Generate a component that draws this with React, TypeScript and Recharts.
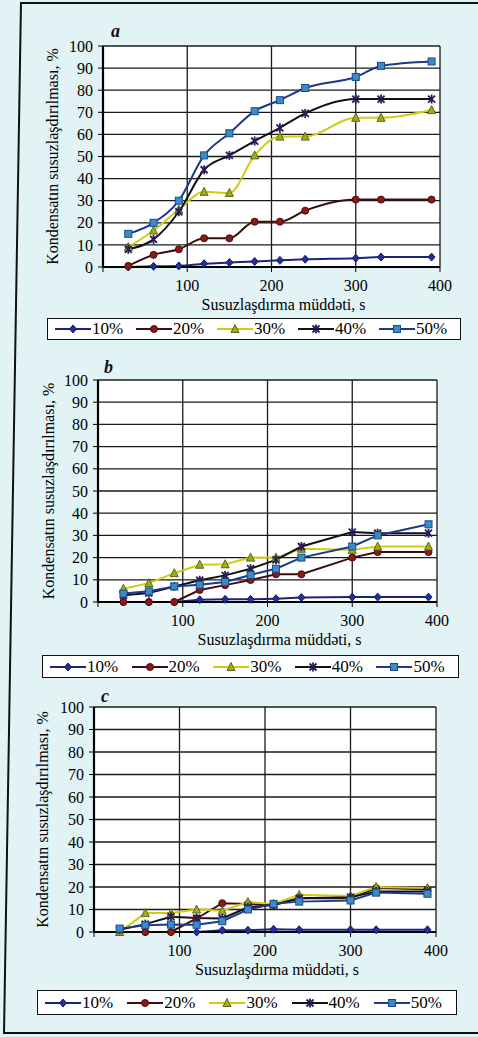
import React from 'react';
import { CartesianGrid, Label, Line, LineChart, XAxis, YAxis } from 'recharts';

// time, s
const times = [30, 60, 90, 120, 150, 180, 210, 240, 300, 330, 390];
const xTicks = [0, 100, 200, 300, 400];
const yTicks = [0, 10, 20, 30, 40, 50, 60, 70, 80, 90, 100];
const seriesNames = ['10%', '20%', '30%', '40%', '50%'];

// panel a
const a10 = [0, 0.3, 0.5, 1.5, 2, 2.5, 3, 3.5, 4, 4.5, 4.5];
const a20 = [0.5, 5.5, 8, 13, 13, 20.5, 20.5, 25.5, 30.5, 30.5, 30.5];
const a30 = [9, 16.5, 26, 34, 33.5, 50.5, 59, 59, 67.5, 67.5, 71];
const a40 = [8, 12.5, 25, 44, 50.5, 57, 63, 69.5, 76, 76, 76];
const a50 = [15, 20, 30, 50.5, 60.5, 70.5, 75.5, 81, 86, 91, 93];

// panel b
const b10 = [0, 0, 0, 1, 1.2, 1.2, 1.5, 2, 2.2, 2.2, 2.2];
const b20 = [0, 0, 0, 5.4, 7.6, 9.9, 12.5, 12.5, 20, 22.5, 22.5];
const b30 = [6, 8.5, 13, 16.8, 17, 20, 20, 24, 23.5, 25, 25];
const b40 = [3, 4, 7, 9.8, 12, 15, 19, 25, 31.5, 31, 31];
const b50 = [3.8, 4.8, 7, 7.8, 9, 12.2, 15, 20, 25, 30, 35];

// panel c
const c10 = [0, 0, 0, 0, 0.8, 0.8, 1.2, 1, 1, 1, 1];
const c20 = [0, 0, 0, 6, 12.8, 12.5, 12, 15, 15, 19.5, 19];
const c30 = [0, 8.4, 8.4, 10, 9.5, 13.3, 12.5, 16.5, 16, 20, 19.5];
const c40 = [1, 3.5, 6.8, 6.2, 6, 11, 12, 15, 15.5, 18, 18];
const c50 = [1.5, 3, 3.3, 3.2, 4.8, 10, 12.5, 13.5, 14, 17.5, 17];

type Kind = 'diamond' | 'circle' | 'triangle' | 'star' | 'square';

const styles: { key: string; line: string; fill: string; edge: string; kind: Kind }[] = [
  { key: 's10', line: '#1b237c', fill: '#1f2f9e', edge: '#141a66', kind: 'diamond' },
  { key: 's20', line: '#3a0f0c', fill: '#8a1a16', edge: '#4a0c0a', kind: 'circle' },
  { key: 's30', line: '#d2cc10', fill: '#9cab22', edge: '#5e6a10', kind: 'triangle' },
  { key: 's40', line: '#111118', fill: '#2a1a55', edge: '#1a1030', kind: 'star' },
  { key: 's50', line: '#1d3a86', fill: '#3a8cc6', edge: '#1c4a88', kind: 'square' },
];

function rows(s10: number[], s20: number[], s30: number[], s40: number[], s50: number[]) {
  return times.map((t, i) => ({ t, s10: s10[i], s20: s20[i], s30: s30[i], s40: s40[i], s50: s50[i] }));
}

function Marker({ cx, cy, s }: { cx?: number; cy?: number; s: (typeof styles)[number] }) {
  if (cx == null || cy == null) return null;
  const r = 3.5;
  if (s.kind === 'diamond')
    return <path d={`M${cx},${cy - r - 0.5}L${cx + r},${cy}L${cx},${cy + r + 0.5}L${cx - r},${cy}Z`} fill={s.fill} stroke={s.edge} strokeWidth={1} />;
  if (s.kind === 'circle') return <circle cx={cx} cy={cy} r={r} fill={s.fill} stroke={s.edge} strokeWidth={1} />;
  if (s.kind === 'triangle')
    return <path d={`M${cx},${cy - r - 1}L${cx + r + 0.5},${cy + r}L${cx - r - 0.5},${cy + r}Z`} fill={s.fill} stroke={s.edge} strokeWidth={1} />;
  if (s.kind === 'square')
    return <rect x={cx - r} y={cy - r} width={2 * r} height={2 * r} fill={s.fill} stroke={s.edge} strokeWidth={1} />;
  return (
    <g stroke={s.fill} strokeWidth={1.8}>
      <line x1={cx - r} y1={cy - r} x2={cx + r} y2={cy + r} />
      <line x1={cx - r} y1={cy + r} x2={cx + r} y2={cy - r} />
      <line x1={cx} y1={cy - r - 1} x2={cx} y2={cy + r + 1} />
    </g>
  );
}

interface PanelProps {
  letter: string;
  data: ReturnType<typeof rows>;
  top: number;
  marginTop: number;
  marginLeft: number;
  marginRight: number;
  yWidth: number;
  labelOffset: number;
  curve: 'monotone' | 'linear';
  letterX: number;
  letterY: number;
  legend: { x: number; y: number; w: number; h: number };
}

const font = '"Liberation Serif", "Times New Roman", Times, serif';
const tickStyle = { fontSize: 16, fill: '#000', fontFamily: font };

function Panel(p: PanelProps) {
  return (
    <>
      <div
        style={{
          position: 'absolute',
          left: p.letterX,
          top: p.letterY,
          fontFamily: font,
          fontStyle: 'italic',
          fontWeight: 'bold',
          fontSize: 18,
          lineHeight: '18px',
          color: '#111',
        }}
      >
        {p.letter}
      </div>
      <div style={{ position: 'absolute', left: 0, top: p.top }}>
        <LineChart
          width={478}
          height={315}
          data={p.data}
          margin={{ top: p.marginTop, right: p.marginRight, left: p.marginLeft, bottom: 4 }}
          style={{ fontFamily: font }}
        >
          <CartesianGrid stroke="#1a1a1a" strokeWidth={1.3} fill="#fff" fillOpacity={1} />
          <XAxis
            type="number"
            dataKey="t"
            domain={[0, 400]}
            ticks={xTicks}
            interval={0}
            tickFormatter={(v: number) => (v === 0 ? '' : String(v))}
            tick={tickStyle}
            tickSize={5}
            tickMargin={8}
            height={44}
            axisLine={{ stroke: '#000', strokeWidth: 2.2 }}
            tickLine={{ stroke: '#000' }}
          >
            <Label
              value="Susuzlaşdırma müddəti, s"
              position="insideBottom"
              offset={1}
              dx={12}
              style={{ fontSize: 16, fill: '#000', fontFamily: font }}
            />
          </XAxis>
          <YAxis
            domain={[0, 100]}
            ticks={yTicks}
            interval={0}
            tick={tickStyle}
            tickSize={5}
            tickMargin={5}
            width={p.yWidth}
            axisLine={{ stroke: '#000', strokeWidth: 2.2 }}
            tickLine={{ stroke: '#000' }}
          >
            <Label
              value="Kondensatın susuzlaşdırılması, %"
              angle={-90}
              position="insideLeft"
              offset={p.labelOffset}
              style={{ fontSize: 16, fill: '#000', fontFamily: font, textAnchor: 'middle' }}
            />
          </YAxis>
          {styles.map((s) => (
            <Line
              key={s.key}
              type={p.curve}
              dataKey={s.key}
              stroke={s.line}
              strokeWidth={2}
              isAnimationActive={false}
              dot={(d: any) => <Marker key={`${s.key}-${d.index}`} cx={d.cx} cy={d.cy} s={s} />}
              activeDot={false}
            />
          ))}
        </LineChart>
      </div>
      <div
        style={{
          position: 'absolute',
          left: p.legend.x,
          top: p.legend.y,
          width: p.legend.w,
          height: p.legend.h,
          boxSizing: 'border-box',
          border: '1.5px solid #111',
          background: '#fff',
          display: 'flex',
          alignItems: 'center',
          paddingLeft: 7,
          fontFamily: font,
          fontSize: 17,
          color: '#000',
        }}
      >
        {styles.map((s, i) => (
          <div key={s.key} style={{ width: 83, display: 'flex', alignItems: 'center' }}>
            <svg width={36} height={12}>
              <line x1={0} y1={6} x2={36} y2={6} stroke={s.line} strokeWidth={2} />
              <Marker cx={18} cy={6} s={s} />
            </svg>
            <span style={{ marginLeft: 1 }}>{seriesNames[i]}</span>
          </div>
        ))}
      </div>
    </>
  );
}

export default function App() {
  return (
    <div
      style={{
        position: 'absolute',
        left: 0,
        top: 0,
        width: 478,
        height: 1037,
        background: '#e2f3f6',
        overflow: 'hidden',
        fontFamily: font,
      }}
    >
      <svg width={478} height={1037} style={{ position: 'absolute', left: 0, top: 0 }}>
        <line x1={21} y1={3} x2={478} y2={3} stroke="#111" strokeWidth={2} />
        <line x1={21} y1={2} x2={4} y2={1034} stroke="#111" strokeWidth={2} />
        <line x1={4} y1={1033} x2={478} y2={1033} stroke="#111" strokeWidth={2} />
      </svg>
      <Panel
        letter="a"
        data={rows(a10, a20, a30, a40, a50)}
        top={0}
        marginTop={46}
        marginLeft={8}
        marginRight={38}
        yWidth={95}
        labelOffset={44}
        curve="monotone"
        letterX={111}
        letterY={22}
        legend={{ x: 47, y: 318, w: 414, h: 22 }}
      />
      <Panel
        letter="b"
        data={rows(b10, b20, b30, b40, b50)}
        top={335}
        marginTop={45}
        marginLeft={3}
        marginRight={41}
        yWidth={95}
        labelOffset={45}
        curve="linear"
        letterX={104}
        letterY={358}
        legend={{ x: 42, y: 655, w: 417, h: 23 }}
      />
      <Panel
        letter="c"
        data={rows(c10, c20, c30, c40, c50)}
        top={665}
        marginTop={42}
        marginLeft={2}
        marginRight={42}
        yWidth={92}
        labelOffset={40}
        curve="linear"
        letterX={101}
        letterY={687}
        legend={{ x: 37, y: 990, w: 420, h: 25 }}
      />
    </div>
  );
}
